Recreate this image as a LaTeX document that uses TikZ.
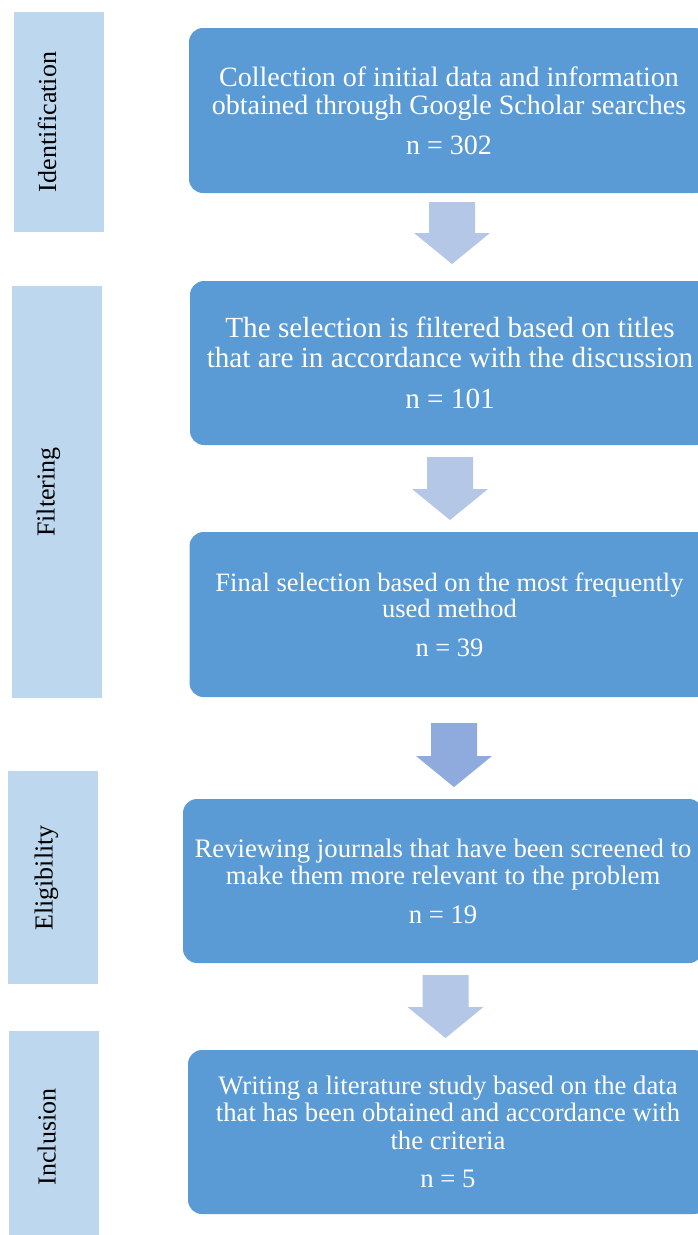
\documentclass[tikz,border=0pt]{standalone}
\usepackage{fontspec}
\setmainfont{Liberation Serif}
\definecolor{boxblue}{HTML}{5B9BD5}
\definecolor{sideblue}{HTML}{BDD7EE}
\definecolor{arrowlight}{HTML}{B4C7E7}
\definecolor{arrowdark}{HTML}{8FAADC}
\tikzset{
  stepbox/.style={fill=boxblue, rounded corners=14pt, minimum width=520pt, minimum height=165pt,
    text=white, align=center, inner sep=0pt},
  sidebox/.style={fill=sideblue, inner sep=0pt, minimum width=90pt},
  sidelabel/.style={rotate=90, anchor=base, inner sep=0pt, font=\fontsize{26}{30}\selectfont}
}
% block arrow: centre x, top, neck, tip, colour
\newcommand{\blockarrow}[5]{%
  \fill[#5] (#1-23,#2) -- (#1+23,#2) -- (#1+23,#3) -- (#1+38,#3) -- (#1,#4)
    -- (#1-38,#3) -- (#1-23,#3) -- cycle;}
\begin{document}
\begin{tikzpicture}[x=1pt,y=1pt]
\useasboundingbox (0,0) rectangle (698,-1235);
\clip (0,0) rectangle (698,-1235);

   \node[sidebox, minimum height=220pt] (ident) at (59,-122) {};
   \node[sidebox, minimum height=412pt] (filter) at (57,-492) {};
   \node[sidebox, minimum height=213pt] (elig) at (53,-877.5) {};
   \node[sidebox, minimum height=206pt] (incl) at (53.5,-1134) {};

   \node[sidelabel] (identlbl) at (56,-122) {Identification};
   \node[sidelabel] (filterlbl) at (54.5,-492) {Filtering};
   \node[sidelabel] (eliglbl) at (52.5,-878) {Eligibility};
   \node[sidelabel] (incllbl) at (55.5,-1137) {Inclusion};

   \node[stepbox, font=\fontsize{28}{28}\selectfont] (collect) at (449,-110.5)
     {Collection of initial data and information\\obtained through Google Scholar searches\\[12pt]n = 302};
   \node[stepbox, minimum height=164pt, font=\fontsize{29.2}{30}\selectfont] (titles) at (450,-363)
     {The selection is filtered based on titles\\that are in accordance with the discussion\\[11pt]n = 101};
   \node[stepbox, font=\fontsize{26.5}{26}\selectfont] (final) at (449.5,-614.5)
     {Final selection based on the most frequently\\used method\\[13pt]n = 39};
   \node[stepbox, minimum height=164pt, font=\fontsize{26.7}{27}\selectfont] (review) at (443,-881)
     {Reviewing journals that have been screened to\\make them more relevant to the problem\\[12pt]n = 19};
   \node[stepbox, minimum height=164pt, font=\fontsize{26.7}{27.5}\selectfont] (write) at (448,-1132)
     {Writing a literature study based on the data\\that has been obtained and accordance with\\the criteria\\[11pt]n = 5};

   \blockarrow{452}{-202}{-233}{-264}{arrowlight}
   \blockarrow{450}{-457}{-489}{-520}{arrowlight}
   \blockarrow{454}{-723}{-756}{-787}{arrowdark}
   \blockarrow{445.5}{-975}{-1007}{-1038}{arrowlight}

\end{tikzpicture}
\end{document}
